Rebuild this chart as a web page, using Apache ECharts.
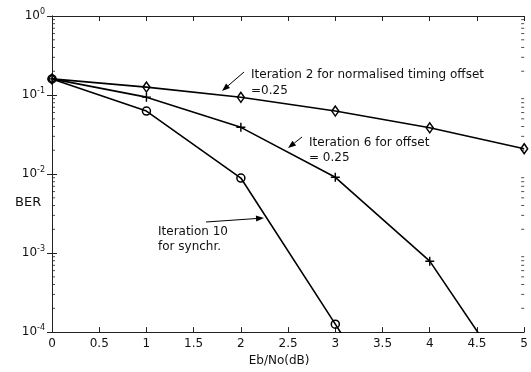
<!DOCTYPE html>
<html><head><meta charset="utf-8">
<script src="https://cdn.jsdelivr.net/npm/echarts@6/dist/echarts.min.js"></script>
<style>html,body{margin:0;padding:0;background:#fff}#c{width:531px;height:372px}</style>
</head><body><div id="c"></div>
<script>
// Data
const ebnoIter2 = [0, 1, 2, 3, 4, 5];
const berIter2 = [0.16, 0.126, 0.0936, 0.0627, 0.0385, 0.0209];
const ebnoIter6 = [0, 1, 2, 3, 4, 5];
const berIter6 = [0.16, 0.094, 0.039, 0.0091, 0.00079, 0.0000135]; // last point clipped below axis
const ebnoIter10 = [0, 1, 2, 3, 4];
const berIter10 = [0.16, 0.0627, 0.0089, 0.000126, 0.0000017]; // last point clipped below axis
const xLabelName = 'Eb/No(dB)';
const yLabelName = 'BER';
const minorFactors = [2, 3, 4, 5, 6, 7, 8, 9];
const decades = [0.0001, 0.001, 0.01, 0.1];
const annotations = [
  {lines: ['Iteration 2 for normalised timing offset', '=0.25']},
  {lines: ['Iteration 6 for offset', '= 0.25']},
  {lines: ['Iteration 10', 'for synchr.']}
];

const FONT = '"DejaVu Sans", Verdana, sans-serif';
const chart = echarts.init(document.getElementById('c'), null, {renderer: 'canvas'});

function pts(xs, ys, hiddenLast) {
  return xs.map((x, i) => {
    const d = {value: [x, ys[i]]};
    if (hiddenLast && i === xs.length - 1) d.symbol = 'none';
    return d;
  });
}
const minorVals = [];
decades.forEach(d => minorFactors.forEach(m => minorVals.push(m * d)));

const plusPath = 'path://M4.2,0H5.8V4.2H10V5.8H5.8V10H4.2V5.8H0V4.2H4.2Z';
const lineStyle = {color: '#000', width: 1.6};
const hollow = {color: 'rgba(255,255,255,0)', borderColor: '#000', borderWidth: 1.5};

function arrow(x1, y1, x2, y2) {
  const ang = Math.atan2(y2 - y1, x2 - x1);
  const L = 8, W = 3;
  const bx = x2 - L * Math.cos(ang), by = y2 - L * Math.sin(ang);
  const px = -Math.sin(ang) * W, py = Math.cos(ang) * W;
  return [
    {type: 'line', shape: {x1, y1, x2: bx, y2: by}, style: {stroke: '#000', lineWidth: 1}, silent: true},
    {type: 'polygon', shape: {points: [[x2, y2], [bx + px, by + py], [bx - px, by - py]]}, style: {fill: '#000'}, silent: true}
  ];
}
function txt(s, x, y, size) {
  return {type: 'text', x, y, style: {text: s, fill: '#111', font: (size || 12) + 'px ' + FONT, textVerticalAlign: 'middle', verticalAlign: 'middle'}, silent: true};
}

const axisLineStyle = {color: '#222', width: 1};
const yLabelFmt = v => '{b|10}{s|' + Math.round(Math.log10(v)) + '}';

const option = {
  animation: false,
  backgroundColor: '#fff',
  grid: {left: 52, top: 16, right: 2, bottom: 34, containLabel: false},
  xAxis: [{
    type: 'value', min: 0, max: 5, interval: 0.5, position: 'bottom',
    name: xLabelName, nameLocation: 'middle', nameGap: 21,
    nameTextStyle: {fontFamily: FONT, fontSize: 12, color: '#111', padding: [0, 18, 0, 0]},
    axisLine: {show: true, lineStyle: axisLineStyle},
    axisTick: {show: true, inside: true, length: 5, lineStyle: axisLineStyle},
    axisLabel: {fontFamily: FONT, fontSize: 12, color: '#111', margin: 6, showMaxLabel: true, showMinLabel: true},
    splitLine: {show: false}
  }, {
    type: 'value', min: 0, max: 5, interval: 0.5, position: 'top',
    axisLine: {show: true, lineStyle: axisLineStyle},
    axisTick: {show: true, inside: true, length: 5, lineStyle: axisLineStyle},
    axisLabel: {show: false}, splitLine: {show: false}
  }],
  yAxis: [{
    type: 'log', logBase: 10, min: 0.0001, max: 1, position: 'left',
    axisLine: {show: true, lineStyle: axisLineStyle},
    axisTick: {show: true, inside: true, length: 5, lineStyle: axisLineStyle},
    axisLabel: {
      formatter: yLabelFmt, margin: 7,
      rich: {
        b: {fontFamily: FONT, fontSize: 12, color: '#111'},
        s: {fontFamily: FONT, fontSize: 8, color: '#111', padding: [0, 0, 9, 0]}
      }
    },
    splitLine: {show: false}
  }, {
    type: 'log', logBase: 10, min: 0.0001, max: 1, position: 'right',
    axisLine: {show: true, lineStyle: axisLineStyle},
    axisTick: {show: true, inside: true, length: 5, lineStyle: axisLineStyle},
    axisLabel: {show: false}, splitLine: {show: false}
  }],
  series: [
    {type: 'line', name: 'Iteration 2', data: pts(ebnoIter2, berIter2, false), symbol: 'diamond', symbolSize: [7, 10],
     lineStyle, itemStyle: hollow, z: 3},
    {type: 'line', name: 'Iteration 6', data: pts(ebnoIter6, berIter6, true), symbol: plusPath, symbolSize: 9,
     lineStyle, itemStyle: {color: '#000'}, z: 3},
    {type: 'line', name: 'Iteration 10', data: pts(ebnoIter10, berIter10, true), symbol: 'circle', symbolSize: 8,
     lineStyle, itemStyle: hollow, z: 3},
    {type: 'scatter', name: 'minorL', data: minorVals.map(v => [0, v]), symbol: 'rect', symbolSize: [3, 1], symbolOffset: [1.5, 0],
     itemStyle: {color: '#222'}, silent: true, z: 2},
    {type: 'scatter', name: 'minorR', data: minorVals.map(v => [5, v]), symbol: 'rect', symbolSize: [3, 1], symbolOffset: [-1.5, 0],
     itemStyle: {color: '#222'}, silent: true, z: 2}
  ],
  graphic: [
    txt(yLabelName, 15, 203, 13),
    txt(annotations[0].lines[0], 251, 75),
    txt(annotations[0].lines[1], 251, 91),
    txt(annotations[1].lines[0], 309, 142.5),
    txt(annotations[1].lines[1], 309, 158),
    txt(annotations[2].lines[0], 158, 232),
    txt(annotations[2].lines[1], 158, 246.5),
    ...arrow(244, 72, 222, 91),
    ...arrow(302, 137, 288, 148),
    ...arrow(206, 222, 264, 218)
  ]
};
chart.setOption(option);
</script>
</body></html>
